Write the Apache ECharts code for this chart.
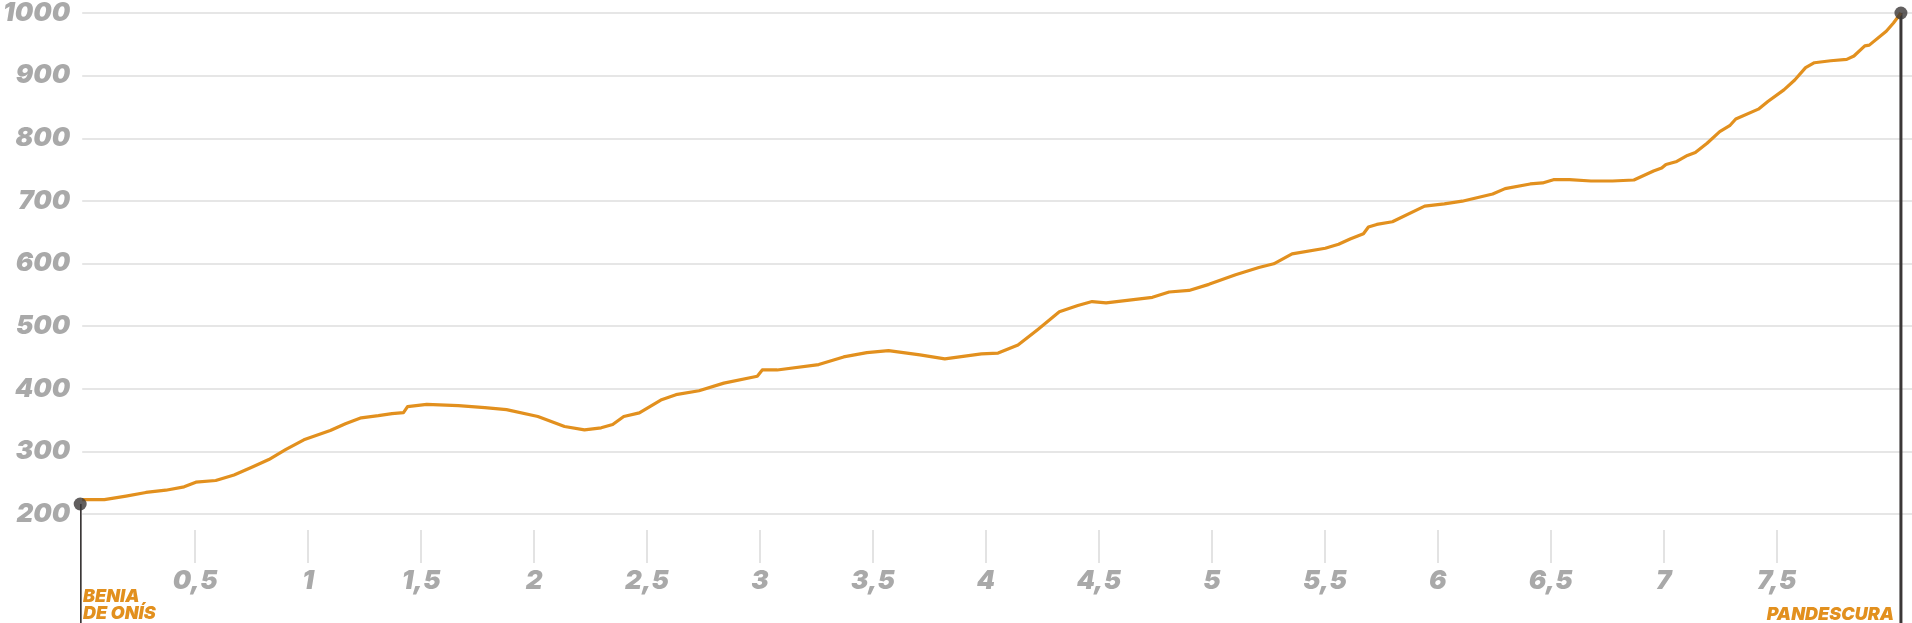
<!DOCTYPE html>
<html>
<head>
<meta charset="utf-8">
<script src="https://cdn.jsdelivr.net/npm/echarts@6/dist/echarts.min.js"></script>
<style>
html,body{margin:0;padding:0;background:#fff;}
#chart{width:1912px;height:623px;}
</style>
</head>
<body>
<div id="chart"></div>
<script>
// Distance along the route (km)
const km = [0, 0.098, 0.194, 0.282, 0.37, 0.451, 0.503, 0.591, 0.672, 0.753, 0.826, 0.9, 0.981, 1.098, 1.165, 1.235, 1.311, 1.371, 1.422, 1.44, 1.525, 1.665, 1.782, 1.878, 2.017, 2.135, 2.223, 2.297, 2.348, 2.397, 2.466, 2.561, 2.628, 2.73, 2.84, 2.988, 3.01, 3.076, 3.26, 3.37, 3.473, 3.569, 3.708, 3.818, 3.98, 4.054, 4.142, 4.23, 4.325, 4.407, 4.47, 4.532, 4.737, 4.811, 4.899, 4.987, 5.105, 5.208, 5.274, 5.355, 5.502, 5.561, 5.612, 5.671, 5.693, 5.73, 5.799, 5.942, 6.029, 6.108, 6.243, 6.298, 6.409, 6.464, 6.512, 6.583, 6.678, 6.773, 6.868, 6.955, 6.991, 7.01, 7.058, 7.105, 7.14, 7.192, 7.248, 7.292, 7.319, 7.419, 7.461, 7.532, 7.58, 7.628, 7.667, 7.739, 7.81, 7.842, 7.89, 7.91, 7.985, 8.017, 8.05];
// Elevation (m)
const elevation = [223, 223, 228.6, 234.4, 238, 243.4, 250.8, 253.5, 262.4, 275, 287, 302.7, 318.5, 333.3, 344, 353.5, 357, 360.3, 362, 371.4, 375, 373, 370, 366.7, 355.6, 339.7, 334.4, 337.6, 342.9, 355.6, 361.4, 382, 390.5, 396.8, 409, 420, 430, 430, 438.6, 450.8, 457.7, 460.8, 454, 447.6, 455.6, 457, 469.8, 494.7, 522.8, 532.8, 539.2, 537, 546, 554.5, 557, 566.7, 582, 593.7, 599.5, 615.3, 624.3, 630.7, 639.2, 647.6, 658.2, 662.4, 666.7, 691.6, 695.2, 699.5, 711, 719.6, 727, 728.6, 733.8, 733.8, 731.7, 731.7, 733.3, 747.6, 752.4, 758.2, 763, 772.5, 777.3, 792, 810.6, 820, 830.7, 846.5, 858.7, 877.3, 893, 912.7, 920.6, 923.8, 925.9, 931.3, 947.6, 948.7, 970.9, 984, 1000];
// Start / end markers
const endKm = [-0.009, 8.05];
const endElev = [216, 1000];
const endNames = ['BENIA\nDE ONÍS', 'PANDESCURA'];
// Ticks
const xTicks = [0.5, 1, 1.5, 2, 2.5, 3, 3.5, 4, 4.5, 5, 5.5, 6, 6.5, 7, 7.5];
const yTicks = [200, 300, 400, 500, 600, 700, 800, 900, 1000];

const ORANGE = '#e2901e';
const DARK = '#3b3737';
const GRAY = '#a9a9a9';
const FONT = 'Inter';

const chart = echarts.init(document.getElementById('chart'), null, {renderer: 'canvas'});

const option = {
  animation: false,
  backgroundColor: '#fff',
  grid: {left: 76, right: 0, top: 10, bottom: 109, containLabel: false},
  xAxis: {
    type: 'value', min: 0, max: 8.099, interval: 0.5,
    offset: 16,
    axisLine: {show: false},
    splitLine: {show: false},
    axisTick: {show: true, length: 33, customValues: xTicks, lineStyle: {color: '#e3e3e3', width: 2}},
    axisLabel: {
      customValues: xTicks, margin: 38,
      color: GRAY, fontFamily: FONT, fontWeight: 900, fontStyle: 'italic', fontSize: 26,
      formatter: v => String(v).replace('.', ',')
    }
  },
  yAxis: {
    type: 'value', min: yTicks[0], max: yTicks[yTicks.length - 1], interval: 100,
    axisLine: {show: false}, axisTick: {show: false},
    splitLine: {show: true, lineStyle: {color: '#e6e6e6', width: 2}},
    axisLabel: {margin: 12, color: GRAY, fontFamily: FONT, fontWeight: 900, fontStyle: 'italic', fontSize: 26,
      formatter: v => String(v)}
  },
  series: [
    {
      type: 'line', name: 'stem-start', clip: false, symbol: 'none', silent: true, z: 1,
      lineStyle: {color: DARK, width: 3},
      data: [[endKm[0], endElev[0]], [endKm[0], 0]]
    },
    {
      type: 'line', name: 'stem-end', clip: false, symbol: 'none', silent: true, z: 1,
      lineStyle: {color: DARK, width: 3},
      data: [[endKm[1], endElev[1]], [endKm[1], 0]]
    },
    {
      type: 'line', name: 'Perfil', symbol: 'none', z: 3, clip: false,
      lineStyle: {color: ORANGE, width: 3.2, join: 'round'},
      data: km.map((k, i) => [k, elevation[i]])
    },
    {
      type: 'scatter', name: 'ends', z: 4, clip: false, symbolSize: 13,
      itemStyle: {color: DARK},
      data: endKm.map((k, i) => [k, endElev[i]])
    }
  ],
  graphic: [
    {
      type: 'text', left: 83, top: 588, z: 10,
      style: {text: endNames[0], fill: ORANGE, font: 'italic 900 18px ' + FONT, lineHeight: 17}
    },
    {
      type: 'text', right: 18, top: 606, z: 10,
      style: {text: endNames[1], fill: ORANGE, font: 'italic 900 18px ' + FONT, lineHeight: 17}
    }
  ]
};
chart.setOption(option);
</script>
</body>
</html>
